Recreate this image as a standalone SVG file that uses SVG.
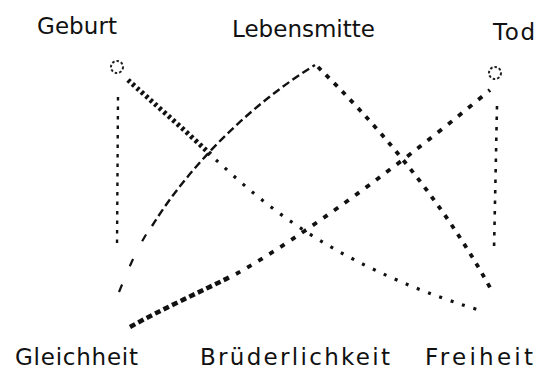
<svg xmlns="http://www.w3.org/2000/svg" width="537" height="375" viewBox="0 0 537 375">
<style>
  .lbl { font-family: "DejaVu Sans", "Liberation Sans", sans-serif; font-size: 23px; fill: #111; }
  .ln { fill: none; stroke: #111; stroke-linecap: butt; }
  .ring { fill: none; stroke: #222; stroke-width: 2; stroke-dasharray: 2.5 2; }
</style>
<rect width="537" height="375" fill="#fff"/>
<g id="connectors">
  <!-- Geburt -> lower right (heavy, then dotted) -->
  <path class="ln" d="M128,80 C150,100 185,130 212,156" stroke-width="5" stroke-dasharray="3 3"/>
  <path class="ln" d="M216,160 C250,190 320,262 482,311" stroke-width="3.2" stroke-dasharray="3 9"/>
  <!-- Geburt vertical -->
  <path class="ln" d="M118,97 L117,248" stroke-width="2.4" stroke-dasharray="3.5 6"/>
  <!-- Gleichheit -> Lebensmitte -->
  <path class="ln" d="M119,292 C128,270 135,252 150,228" stroke-width="2.2" stroke-dasharray="8 20"/>
  <path class="ln" d="M152,226 C190,165 250,105 315,65" stroke-width="2.4" stroke-dasharray="8 4"/>
  <!-- Lebensmitte -> Freiheit -->
  <path class="ln" d="M318,67 C370,118 440,195 493,293" stroke-width="3.8" stroke-dasharray="4.5 7"/>
  <!-- Gleichheit -> Tod -->
  <path class="ln" d="M130,327 C160,310 200,292 232,276" stroke-width="4.5" stroke-dasharray="6 3.5"/>
  <path class="ln" d="M236,274 C280,250 380,182 490,90" stroke-width="3.8" stroke-dasharray="5 8"/>
  <!-- Tod vertical -->
  <path class="ln" d="M497,106 L494,250" stroke-width="2.6" stroke-dasharray="3.5 7"/>
</g>
<g id="node-geburt">
  <circle class="ring" cx="117" cy="67" r="6"/>
  <text class="lbl" x="37" y="34" textLength="80">Geburt</text>
</g>
<g id="node-lebensmitte">
  <text class="lbl" x="232" y="37" textLength="143">Lebensmitte</text>
</g>
<g id="node-tod">
  <circle class="ring" cx="495" cy="73" r="6"/>
  <text class="lbl" x="493" y="40" textLength="42">Tod</text>
</g>
<g id="node-gleichheit">
  <text class="lbl" x="15" y="365" textLength="123">Gleichheit</text>
</g>
<g id="node-bruederlichkeit">
  <text class="lbl" x="200" y="365" textLength="190">Brüderlichkeit</text>
</g>
<g id="node-freiheit">
  <text class="lbl" x="425" y="365" textLength="108">Freiheit</text>
</g>
</svg>
